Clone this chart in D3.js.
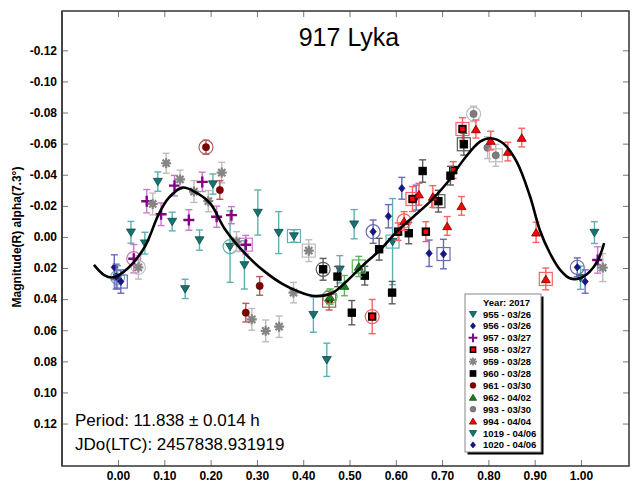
<!DOCTYPE html>
<html>
<head>
<meta charset="utf-8">
<script src="https://cdn.jsdelivr.net/npm/d3@7"></script>
<style>
  html, body { margin: 0; padding: 0; background: #fff; }
  svg { display: block; font-family: Arial, "Liberation Sans", sans-serif; }
</style>
</head>
<body>
<svg id="chart" width="633" height="483"></svg>
<script>
// Lightcurve of 917 Lyka: rotational phase vs reduced R magnitude.
// Each point: [phase, magnitude, error, mark] where mark 'o' = ring, 's' = box.
const s955 = [
  [0.086, -0.0356, 0.0062], [0.117, -0.0099, 0.006], [0.058, 0.004, 0.007],
  [0.176, 0.002, 0.0065], [0.205, -0.034, 0.0065], [0.145, 0.0334, 0.0062],
  [0.242, 0.0062, 0.023, 'o'], [0.273, 0.018, 0.0155], [0.302, -0.0157, 0.0145],
  [0.347, -0.0028, 0.0135], [0.380, -0.0006, 0.004, 's'], [0.422, 0.050, 0.0113],
  [0.451, 0.079, 0.0107], [0.479, 0.0208, 0.0088], [0.510, -0.0082, 0.0094],
  [0.593, 0.003, 0.0277, 's']
];
const s956 = [
  [0.551, -0.0034, 0.0075, 'o'], [0.584, -0.0133, 0.0075], [0.613, -0.0313, 0.007],
  [0.644, -0.0253, 0.008], [0.672, 0.0105, 0.0085], [0.703, 0.011, 0.0095, 's']
];
const s957 = [
  [0.062, -0.023, 0.0075], [0.093, -0.0146, 0.0073], [0.122, -0.033, 0.0066],
  [0.153, -0.0109, 0.0066], [0.182, -0.0354, 0.0062], [0.213, -0.013, 0.0068],
  [0.245, -0.014, 0.0055], [0.276, 0.005, 0.006, 's'], [0.034, 0.014, 0.0091, 'o'],
  [1.036, 0.0148, 0.0085]
];
const s958 = [
  [0.549, 0.0512, 0.011, 'o'], [0.605, -0.0034, 0.0056], [0.636, -0.0244, 0.008, 's'],
  [0.665, -0.0034, 0.0064], [0.724, -0.043, 0.0054], [0.744, -0.0694, 0.0073, 's']
];
const s959 = [
  [0.104, -0.0474, 0.0064], [0.134, -0.037, 0.006], [0.075, -0.0212, 0.007],
  [0.164, -0.0292, 0.007], [0.195, -0.023, 0.0068], [0.224, -0.0414, 0.0066],
  [0.044, 0.0196, 0.0075, 'o'], [0.256, 0.003, 0.0064], [0.289, 0.053, 0.007],
  [0.319, 0.0604, 0.007], [0.348, 0.0577, 0.0069], [0.379, 0.0358, 0.0066],
  [0.412, 0.0088, 0.007, 's'], [1.047, 0.0197, 0.009]
];
const s960 = [
  [0.443, 0.0208, 0.007, 'o'], [0.474, 0.0255, 0.0065], [0.505, 0.0487, 0.0078],
  [0.533, 0.0249, 0.006], [0.564, 0.0079, 0.007], [0.592, 0.0358, 0.0072],
  [0.628, -0.0024, 0.0068], [0.658, -0.0424, 0.0072], [0.692, -0.023, 0.007, 's'],
  [0.718, -0.0394, 0.006], [0.747, -0.0596, 0.007, 's']
];
const s961 = [
  [0.190, -0.0577, 0.0045, 'o'], [0.220, -0.0302, 0.006], [0.306, 0.0315, 0.006],
  [0.276, 0.0487, 0.006], [0.456, 0.041, 0.006, 's']
];
const s962 = [
  [0.458, 0.0384, 0.005, 'o'], [0.489, 0.0313, 0.0065], [0.520, 0.019, 0.0065, 's']
];
const s993 = [
  [0.768, -0.0791, 0.005, 'o'], [0.798, -0.0574, 0.007], [0.816, -0.0525, 0.007, 's']
];
const s994 = [
  [0.618, -0.0103, 0.006, 'o'], [0.650, -0.0275, 0.007], [0.680, -0.026, 0.007],
  [0.711, -0.0071, 0.006], [0.742, -0.020, 0.006], [0.773, -0.0694, 0.0058],
  [0.805, -0.062, 0.006], [0.842, -0.0549, 0.006], [0.872, -0.0639, 0.006],
  [0.903, -0.003, 0.0065], [0.924, 0.027, 0.007, 's']
];
const s1019 = [
  [-0.001, 0.026, 0.0075, 'o'], [0.999, 0.0262, 0.0075],
  [0.028, -0.003, 0.007], [1.029, -0.0028, 0.007]
];
const s1020 = [
  [-0.008, 0.0195, 0.008], [-0.004, 0.0255, 0.008], [0.006, 0.0287, 0.0075, 's'],
  [0.992, 0.0195, 0.006, 'o'], [1.009, 0.0287, 0.0075]
];

// Fourier fit, sampled along phase
const curvePhase = [-0.052, -0.030, -0.010, 0.022, 0.058, 0.087, 0.109, 0.139, 0.166, 0.199,
  0.231, 0.281, 0.317, 0.354, 0.389, 0.425, 0.462, 0.492, 0.530, 0.566, 0.602, 0.638, 0.674,
  0.710, 0.746, 0.782, 0.805, 0.832, 0.861, 0.890, 0.911, 0.933, 0.955, 0.976, 0.998, 1.019,
  1.037, 1.050];
const curveMag = [0.018, 0.0245, 0.026, 0.020, 0.0062, -0.014, -0.0249, -0.0317, -0.029, -0.0216,
  -0.005, 0.0127, 0.0223, 0.030, 0.035, 0.038, 0.0362, 0.029, 0.018, 0.0084, -0.0034, -0.013, -0.0227,
  -0.0345, -0.0495, -0.0613, -0.0635, -0.0602, -0.0484, -0.026, -0.0045, 0.0105, 0.0212, 0.0266, 0.0266, 0.0223,
  0.0148, 0.004];

const sessionNames = ["955 - 03/26", "956 - 03/26", "957 - 03/27", "958 - 03/27", "959 - 03/28",
  "960 - 03/28", "961 - 03/30", "962 - 04/02", "993 - 03/30", "994 - 04/04", "1019 - 04/06", "1020 - 04/06"];
const sessionData = [s955, s956, s957, s958, s959, s960, s961, s962, s993, s994, s1019, s1020];

const xTicks = [0, 0.1, 0.2, 0.3, 0.4, 0.5, 0.6, 0.7, 0.8, 0.9, 1.0];
const yTicks = [-0.12, -0.10, -0.08, -0.06, -0.04, -0.02, 0, 0.02, 0.04, 0.06, 0.08, 0.10, 0.12];

const titleText = "917 Lyka";
const yLabel = "Magnitude(R) alpha(7.3\u00B0)";
const periodText = "Period: 11.838 \u00B1 0.014 h";
const epochText = "JDo(LTC): 2457838.931919";
const legendTitle = "Year: 2017";

// Marker styles per session
const styles = [
  { shape: "triDown", fill: "#177272", stroke: "#0b4c4c", bar: "#5fb0b0" },
  { shape: "diamond", fill: "#16168a", stroke: "#0c0c5c", bar: "#6a6ab8" },
  { shape: "plus", fill: "#860086", stroke: "#860086", bar: "#c97ac9" },
  { shape: "redSquare", fill: "#ff0000", stroke: "#000000", bar: "#ff6262" },
  { shape: "star", fill: "#858585", stroke: "#858585", bar: "#bdbdbd" },
  { shape: "square", fill: "#000000", stroke: "#000000", bar: "#5c5c5c" },
  { shape: "circle", fill: "#7f0000", stroke: "#5a0000", bar: "#b55a5a" },
  { shape: "triUp", fill: "#1b801b", stroke: "#0e520e", bar: "#5eb55e" },
  { shape: "circle", fill: "#7d7d7d", stroke: "#5e5e5e", bar: "#bdbdbd" },
  { shape: "triUp", fill: "#ff0000", stroke: "#7a0000", bar: "#ff6262" },
  { shape: "triDown", fill: "#177272", stroke: "#0b4c4c", bar: "#5fb0b0" },
  { shape: "diamond", fill: "#16168a", stroke: "#0c0c5c", bar: "#6a6ab8" }
];

const svg = d3.select("#chart");
const L = 62, R = 629, T = 11, B = 466;

const x = d3.scaleLinear().domain([-0.121, 1.1037]).range([L, R]);
const y = d3.scaleLinear().domain([-0.1453, 0.1473]).range([T, B]);

const fmt = d => d.toFixed(2).replace("-0.00", "0.00");

// Axes: ticks point inward on all four sides
const gL = svg.append("g").attr("transform", `translate(${L},0)`)
  .call(d3.axisLeft(y).tickValues(yTicks).tickFormat(fmt).tickSize(-6).tickPadding(5));
const gR = svg.append("g").attr("transform", `translate(${R},0)`)
  .call(d3.axisRight(y).tickValues(yTicks).tickFormat("").tickSize(-6));
const gB = svg.append("g").attr("transform", `translate(0,${B})`)
  .call(d3.axisBottom(x).tickValues(xTicks).tickFormat(fmt).tickSize(-6).tickPadding(5));
const gT = svg.append("g").attr("transform", `translate(0,${T})`)
  .call(d3.axisTop(x).tickValues(xTicks).tickFormat("").tickSize(-6));

[gL, gR, gB, gT].forEach(g => {
  g.select(".domain").remove();
  g.selectAll(".tick line").attr("stroke", "#777").attr("stroke-width", 1);
  g.selectAll(".tick text").attr("fill", "#000").attr("font-size", 12)
    .attr("font-weight", "bold").attr("font-family", "Arial, 'Liberation Sans', sans-serif");
});

// Frame
svg.append("rect").attr("x", L).attr("y", T).attr("width", R - L).attr("height", B - T)
  .attr("fill", "none").attr("stroke", "#333").attr("stroke-width", 1.5);
svg.append("line").attr("x1", L).attr("x2", L).attr("y1", T).attr("y2", B)
  .attr("stroke", "#444").attr("stroke-width", 2);

// Title and axis label
svg.append("text").attr("x", 349).attr("y", 46).attr("text-anchor", "middle")
  .attr("font-size", 25).attr("fill", "#000").text(titleText);
svg.append("text").attr("transform", "translate(21,237) rotate(-90)")
  .attr("text-anchor", "middle").attr("font-size", 12).attr("font-weight", "bold")
  .attr("fill", "#000").text(yLabel);

// Marker drawing
function drawMarker(g, shape, st, scale) {
  const k = scale || 1;
  if (shape === "triDown" || shape === "triUp") {
    const s = 4.5 * k, h = 7.5 * k;
    const p = shape === "triDown"
      ? `M${-s},${-h / 2 + 0.5}L${s},${-h / 2 + 0.5}L0,${h / 2 + 0.5}Z`
      : `M${-s},${h / 2}L${s},${h / 2}L0,${-h / 2}Z`;
    g.append("path").attr("d", p).attr("fill", st.fill).attr("stroke", st.stroke).attr("stroke-width", 0.8);
  } else if (shape === "diamond") {
    const s = 3.8 * k;
    g.append("path").attr("d", `M0,${-s}L${s * 0.85},0L0,${s}L${-s * 0.85},0Z`)
      .attr("fill", st.fill).attr("stroke", st.stroke).attr("stroke-width", 0.6);
  } else if (shape === "plus") {
    const s = 5.5 * k;
    g.append("path").attr("d", `M${-s},0H${s}M0,${-s}V${s}`)
      .attr("stroke", st.stroke).attr("stroke-width", 2.4 * k).attr("fill", "none");
  } else if (shape === "redSquare") {
    const s = 4.2 * k;
    g.append("rect").attr("x", -s).attr("y", -s).attr("width", 2 * s).attr("height", 2 * s)
      .attr("fill", "#000");
    g.append("rect").attr("x", -s * 0.55).attr("y", -s * 0.55).attr("width", 1.1 * s).attr("height", 1.1 * s)
      .attr("fill", st.fill);
  } else if (shape === "square") {
    const s = 4.2 * k;
    g.append("rect").attr("x", -s).attr("y", -s).attr("width", 2 * s).attr("height", 2 * s)
      .attr("fill", st.fill);
  } else if (shape === "circle") {
    g.append("circle").attr("r", 3.6 * k).attr("fill", st.fill).attr("stroke", st.stroke).attr("stroke-width", 0.6);
  } else if (shape === "star") {
    const s = 5 * k, d = s * 0.72;
    g.append("path").attr("d", `M${-s},0H${s}M0,${-s}V${s}M${-d},${-d}L${d},${d}M${-d},${d}L${d},${-d}`)
      .attr("stroke", st.stroke).attr("stroke-width", 2.2 * k).attr("fill", "none");
  }
}

// Error bars, then marks, session by session
const plot = svg.append("g");
sessionData.forEach((pts, i) => {
  const st = styles[i];
  const g = plot.append("g");
  pts.forEach(p => {
    const px = x(p[0]), py = y(p[1]);
    const y1 = y(p[1] - p[2]), y2 = y(p[1] + p[2]);
    const eb = g.append("g").attr("stroke", st.bar).attr("stroke-width", 1.4).attr("fill", "none");
    eb.append("line").attr("x1", px).attr("x2", px).attr("y1", y1).attr("y2", y2);
    eb.append("line").attr("x1", px - 3.5).attr("x2", px + 3.5).attr("y1", y1).attr("y2", y1);
    eb.append("line").attr("x1", px - 3.5).attr("x2", px + 3.5).attr("y1", y2).attr("y2", y2);
    if (p[3] === "o") {
      g.append("circle").attr("cx", px).attr("cy", py).attr("r", 7)
        .attr("fill", "none").attr("stroke", st.bar).attr("stroke-width", 1.2);
    } else if (p[3] === "s") {
      g.append("rect").attr("x", px - 6.5).attr("y", py - 6.5).attr("width", 13).attr("height", 13)
        .attr("fill", "none").attr("stroke", st.bar).attr("stroke-width", 1.2);
    }
    drawMarker(g.append("g").attr("transform", `translate(${px},${py})`), st.shape, st);
  });
});

// Fitted curve
const line = d3.line().x((d, i) => x(curvePhase[i])).y(d => y(d)).curve(d3.curveCatmullRom.alpha(0.5));
svg.append("path").datum(curveMag).attr("d", line)
  .attr("fill", "none").attr("stroke", "#000").attr("stroke-width", 2.6);

// Period / epoch annotation
svg.append("text").attr("x", 75).attr("y", 426).attr("font-size", 17).attr("fill", "#000").text(periodText);
svg.append("text").attr("x", 75).attr("y", 450).attr("font-size", 17).attr("fill", "#000").text(epochText);

// Legend
const lg = svg.append("g");
const lx = 465, ly = 294, lw = 76, lh = 158;
lg.append("rect").attr("x", lx + 2.5).attr("y", ly + 2.5).attr("width", lw).attr("height", lh).attr("fill", "#000");
lg.append("rect").attr("x", lx).attr("y", ly).attr("width", lw).attr("height", lh)
  .attr("fill", "#fff").attr("stroke", "#888").attr("stroke-width", 1);
lg.append("text").attr("x", lx + 18).attr("y", ly + 12).attr("font-size", 9.5).attr("font-weight", "bold")
  .attr("fill", "#000").text(legendTitle);
sessionNames.forEach((name, i) => {
  const cy = ly + 20 + i * 11.9;
  drawMarker(lg.append("g").attr("transform", `translate(${lx + 8},${cy})`), styles[i].shape, styles[i], 0.8);
  lg.append("text").attr("x", lx + 18).attr("y", cy + 3.5).attr("font-size", 9.5).attr("font-weight", "bold")
    .attr("fill", "#000").text(name);
});
</script>
</body>
</html>
